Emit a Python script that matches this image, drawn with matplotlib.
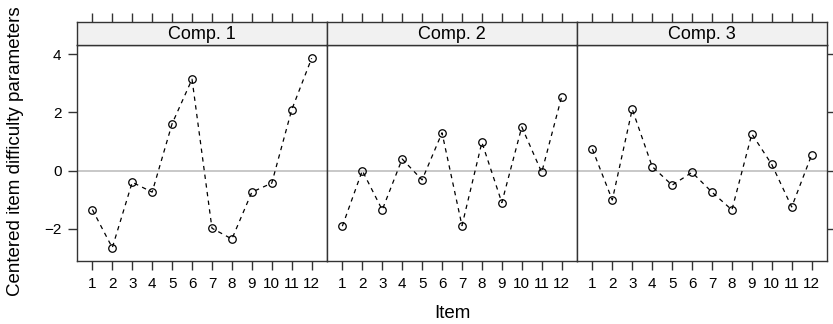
import matplotlib
matplotlib.use("Agg")
import matplotlib.pyplot as plt
import numpy as np

plt.rcParams['font.family'] = ['Liberation Sans', 'DejaVu Sans']

items = list(range(1, 13))
item_labels = [str(i) for i in items]
panels = ["Comp. 1", "Comp. 2", "Comp. 3"]
comp1 = [-1.34, -2.65, -0.40, -0.74, 1.61, 3.14, -1.98, -2.35, -0.74, -0.43, 2.09, 3.86]
comp2 = [-1.91, 0.00, -1.35, 0.40, -0.32, 1.30, -1.89, 0.97, -1.10, 1.50, -0.06, 2.54]
comp3 = [0.74, -1.01, 2.11, 0.14, -0.50, -0.06, -0.74, -1.35, 1.26, 0.21, -1.25, 0.54]
series = [comp1, comp2, comp3]
yticks = [-2, 0, 2, 4]

W, H = 833, 324
fig = plt.figure(figsize=(W / 100, H / 100), dpi=100)

def px(x0, y0, x1, y1):
    return [x0 / W, 1 - y1 / H, (x1 - x0) / W, (y1 - y0) / H]

allv = np.concatenate([np.array(s) for s in series])
ymin, ymax = allv.min(), allv.max()
pad = 0.07 * (ymax - ymin)
ylim = (ymin - pad, ymax + pad)
xpad = 0.07 * (12 - 1)
xlim = (1 - xpad, 12 + xpad)

edge = '#333333'
lefts = [77, 327, 577]
pw = 250
tl = 6.2
for i, (name, vals) in enumerate(zip(panels, series)):
    x0 = lefts[i]
    ax = fig.add_axes(px(x0, 45, x0 + pw, 261))
    ax.axhline(0, color='#bfbfbf', lw=1.2, zorder=1)
    ax.plot(items, vals, ls=(0, (3.5, 3.5)), color='black', lw=0.9, zorder=2)
    ax.plot(items, vals, ls='none', marker='o', ms=5.4, mfc='none', mec='black', mew=0.9, zorder=3)
    ax.set_xlim(*xlim)
    ax.set_ylim(*ylim)
    ax.set_xticks(items)
    ax.set_xticklabels(item_labels, fontsize=11)
    ax.set_yticks(yticks)
    ax.set_yticklabels(["\u22122", "0", "2", "4"] if i == 0 else [], fontsize=11)
    ax.tick_params(axis='x', direction='out', length=tl, width=1, color=edge, pad=5)
    ax.tick_params(axis='y', direction='out', length=tl, width=1, color=edge, pad=5,
                   left=(i == 0), right=(i == 2), labelleft=(i == 0))
    for s in ax.spines.values():
        s.set_color(edge)
        s.set_linewidth(1)
    # strip
    sx = fig.add_axes(px(x0, 22, x0 + pw, 45))
    sx.set_facecolor('#f1f1f1')
    sx.set_xlim(*xlim)
    sx.set_ylim(0, 1)
    sx.set_yticks([])
    sx.set_xticks(items)
    sx.tick_params(axis='x', direction='out', length=tl, width=1, color=edge,
                   top=True, bottom=False, labeltop=False, labelbottom=False)
    for s in sx.spines.values():
        s.set_color(edge)
        s.set_linewidth(1)
    sx.text(0.5, 0.47, name, transform=sx.transAxes, ha='center', va='center', fontsize=13)

fig.text(452 / W, 1 - 313 / H, "Item", ha='center', va='center', fontsize=13.5)
fig.text(16 / W, 1 - 151 / H, "Centered item difficulty parameters", ha='center', va='center',
         rotation=90, fontsize=13.5)

fig.savefig("out.png", dpi=100)
